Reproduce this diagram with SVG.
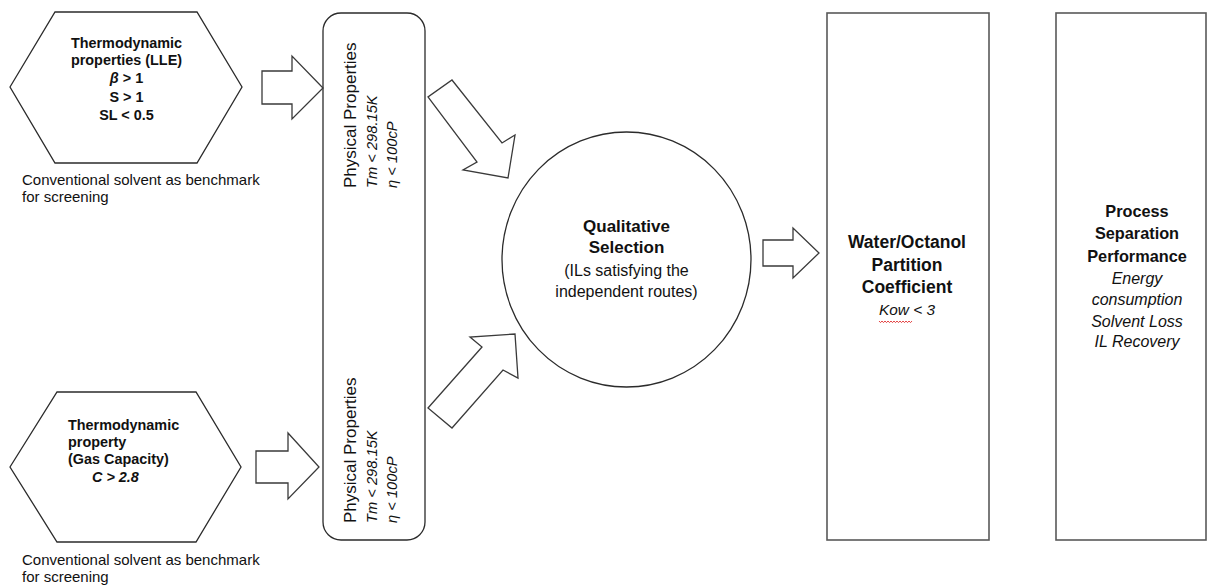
<svg xmlns="http://www.w3.org/2000/svg" width="1207" height="585" viewBox="0 0 1207 585">
<style>
.shape{fill:#fff;stroke:#2b2b2b;stroke-width:1.3}
.box{fill:#fff;stroke:#595959;stroke-width:1.6}
.arrow{fill:#fff;stroke:#3a3a3a;stroke-width:1.3;stroke-linejoin:miter}
text{font-family:"Liberation Sans",Arial,sans-serif;fill:#111}
.hb{font-size:14.4px;font-weight:bold;text-anchor:middle}
.hbl{font-size:14.4px;font-weight:bold}
.cap{font-size:15px}
.pp{font-size:17px}
.ppi{font-size:14.7px;font-style:italic}
.qb{font-size:17px;font-weight:bold;text-anchor:middle}
.qr{font-size:16px;text-anchor:middle}
.wb{font-size:17.5px;font-weight:bold;text-anchor:middle}
.wi{font-size:15.4px;font-style:italic;text-anchor:middle}
.pb{font-size:16.3px;font-weight:bold;text-anchor:middle}
.pi{font-size:16px;font-style:italic;text-anchor:middle}
</style>
<rect width="1207" height="585" fill="#fff"/>

<g id="hex-lle">
<polygon class="shape" points="10,87 55,12 197,12 242,87 197,163 55,163"/>
<text class="hb" x="126.5" y="48.3">Thermodynamic</text>
<text class="hb" x="126.5" y="65">properties (LLE)</text>
<text class="hb" x="126.5" y="83.3"><tspan font-style="italic">β</tspan> &gt; 1</text>
<text class="hb" x="126.5" y="101.7">S &gt; 1</text>
<text class="hb" x="126.5" y="120">SL &lt; 0.5</text>
<text class="cap" x="22" y="185">Conventional solvent as benchmark</text>
<text class="cap" x="22" y="201.7">for screening</text>
</g>

<g id="hex-gas">
<polygon class="shape" points="10,467 57,392 196,392 241,467 196,542 57,542"/>
<text class="hbl" x="68" y="430">Thermodynamic</text>
<text class="hbl" x="68" y="446.7">property</text>
<text class="hbl" x="68" y="463.5">(Gas Capacity)</text>
<text class="hbl" x="92" y="481.7" font-style="italic">C &gt; 2.8</text>
<text class="cap" x="22" y="565">Conventional solvent as benchmark</text>
<text class="cap" x="22" y="581.7">for screening</text>
</g>

<g id="physical-properties">
<rect class="shape" x="323" y="13" width="102" height="527" rx="18" ry="18"/>
<text class="pp" transform="translate(356,188) rotate(-90)">Physical Properties</text>
<text class="ppi" transform="translate(377,188) rotate(-90)">Tm &lt; 298.15K</text>
<text class="ppi" transform="translate(397,188) rotate(-90)">η &lt; 100cP</text>
<text class="pp" transform="translate(356,523) rotate(-90)">Physical Properties</text>
<text class="ppi" transform="translate(377,523) rotate(-90)">Tm &lt; 298.15K</text>
<text class="ppi" transform="translate(397,523) rotate(-90)">η &lt; 100cP</text>
</g>

<g id="qualitative-selection">
<ellipse class="shape" cx="626.5" cy="259.5" rx="124.5" ry="127.5"/>
<text class="qb" x="626.5" y="232">Qualitative</text>
<text class="qb" x="626.5" y="253">Selection</text>
<text class="qr" x="626.5" y="276">(ILs satisfying the</text>
<text class="qr" x="626.5" y="297">independent routes)</text>
</g>

<g id="partition-coefficient">
<rect class="box" x="827" y="13" width="162" height="527"/>
<text class="wb" x="907" y="248">Water/Octanol</text>
<text class="wb" x="907" y="271">Partition</text>
<text class="wb" x="907" y="293">Coefficient</text>
<text class="wi" x="907" y="315">Kow &lt; 3</text>
<polyline points="879,321 880.5,322.6 882,321 883.5,322.6 885,321 886.5,322.6 888,321 889.5,322.6 891,321 892.5,322.6 894,321 895.5,322.6 897,321 898.5,322.6 900,321 901.5,322.6 903,321 904.5,322.6 906,321 907.5,322.6 909,321 910.5,322.6 912,321" fill="none" stroke="#e03030" stroke-width="0.9"/>
</g>

<g id="process-performance">
<rect class="box" x="1056" y="13" width="150" height="527"/>
<text class="pb" x="1137" y="217">Process</text>
<text class="pb" x="1137" y="238.5">Separation</text>
<text class="pb" x="1137" y="261.5">Performance</text>
<text class="pi" x="1137" y="284">Energy</text>
<text class="pi" x="1137" y="305">consumption</text>
<text class="pi" x="1137" y="327">Solvent Loss</text>
<text class="pi" x="1137" y="347">IL Recovery</text>
</g>

<g id="connectors">
<polygon class="arrow" points="262,71 292,71 292,56 323,88 292,119 292,104 262,104"/>
<polygon class="arrow" points="256,451 288,451 288,433 319,467 288,499 288,483 256,483"/>
<polygon class="arrow" points="452,80 502,143 515,135 508,178 463,170 477,162 428,97"/>
<polygon class="arrow" points="428,408 482,347 470,337 515,334 518,378 503,370 452,428"/>
<polygon class="arrow" points="763,240 793,240 793,228 819,253 793,278 793,266 763,266"/>
</g>
</svg>
